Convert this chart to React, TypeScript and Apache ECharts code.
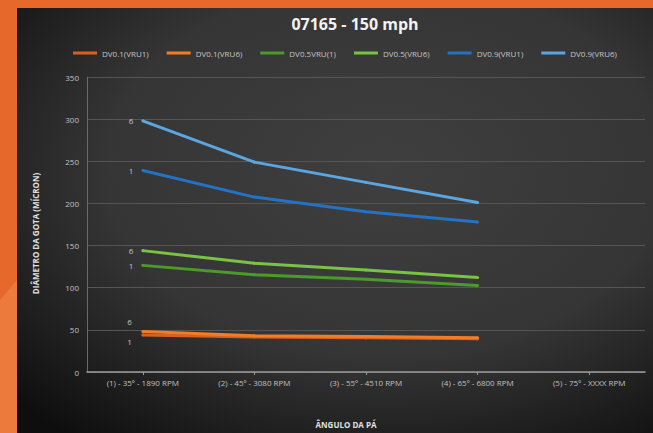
import React, { useEffect, useRef } from "react";
import * as echarts from "echarts";

const categories = [
  "(1) - 35º - 1890 RPM",
  "(2) - 45º - 3080 RPM",
  "(3) - 55º - 4510 RPM",
  "(4) - 65º - 6800 RPM",
  "(5) - 75º - XXXX RPM",
];

const dv01Vru1 = [44, 41.5, 40.5, 39.5, null];
const dv01Vru6 = [48, 43, 42, 40.5, null];
const dv05Vru1 = [126.5, 115.5, 110, 102.5, null];
const dv05Vru6 = [144, 129, 121, 112, null];
const dv09Vru1 = [239, 207.5, 190, 178, null];
const dv09Vru6 = [298, 249, 225, 201, null];

const seriesNames = [
  "DV0.1(VRU1)",
  "DV0.1(VRU6)",
  "DV0.5VRU(1)",
  "DV0.5(VRU6)",
  "DV0.9(VRU1)",
  "DV0.9(VRU6)",
];
const seriesColors = ["#D8611F", "#F27D24", "#4C9A2C", "#79C244", "#2372C3", "#5BA6E1"];
const firstLabels = ["1", "6", "1", "6", "1", "6"];
const yTicks = { min: 0, max: 350, interval: 50 };

const FONT = "'Open Sans', 'Liberation Sans', sans-serif";

export default function App() {
  const ref = useRef<HTMLDivElement>(null);

  useEffect(() => {
    if (!ref.current) return;
    const chart = echarts.init(ref.current, null, { renderer: "svg" });
    const data = [dv01Vru1, dv01Vru6, dv05Vru1, dv05Vru6, dv09Vru1, dv09Vru6];
    const labelPositions: any[] = [[-14, 4], [-14, -13], "left", "left", "left", "left"];
    const series = data.map((d, i) => ({
      name: seriesNames[i],
      type: "line",
      data: d,
      symbol: "circle",
      symbolSize: 3,
      showSymbol: true,
      showAllSymbol: true,
      color: seriesColors[i],
      itemStyle: { color: seriesColors[i] },
      lineStyle: { width: 3, color: seriesColors[i] },
      z: 2 + i,
      label: {
        show: true,
        position: labelPositions[i],
        distance: 8,
        color: "#c8c8c8",
        fontSize: 8,
        fontFamily: FONT,
        formatter: (p: any) => (p.dataIndex === 0 ? firstLabels[i] : ""),
      },
    }));

    chart.setOption({
      animation: false,
      backgroundColor: "#E6692B",
      graphic: [
        {
          type: "polygon",
          z: -10,
          silent: true,
          shape: { points: [[0, 300], [17, 280], [17, 433], [0, 433]] },
          style: { fill: "#EC7A3C" },
        },
        {
          type: "rect",
          z: -9,
          silent: true,
          shape: { x: 17, y: 8, width: 636, height: 425 },
          style: {
            fill: new echarts.graphic.RadialGradient(0.58, 0.38, 0.8, [
              { offset: 0, color: "#3f3f3f" },
              { offset: 0.55, color: "#353535" },
              { offset: 1, color: "#0e0e0e" },
            ]),
          },
        },
      ],
      title: {
        text: "07165 - 150 mph",
        left: 350,
        top: 11,
        textAlign: "center",
        textStyle: { color: "#f2f2f2", fontSize: 16, fontWeight: "bold", fontFamily: FONT },
      },
      legend: {
        left: 68,
        top: 44,
        icon: "rect",
        itemWidth: 24,
        itemHeight: 3,
        itemGap: 18,
        textStyle: { color: "#c4c4c4", fontSize: 8, fontFamily: FONT },
        data: seriesNames,
      },
      grid: { left: 87, right: 8, top: 77, bottom: 57 },
      xAxis: {
        type: "category",
        data: categories,
        boundaryGap: true,
        name: "ÂNGULO DA PÁ",
        nameLocation: "middle",
        nameGap: 48,
        nameTextStyle: {
          color: "#e0e0e0",
          fontSize: 8,
          fontWeight: "bold",
          fontFamily: FONT,
          padding: [0, 40, 0, 0],
        },
        axisLine: { lineStyle: { color: "#9a9a9a", width: 1.5 } },
        axisTick: { show: true, alignWithLabel: true, length: 3, lineStyle: { color: "#9a9a9a" } },
        axisLabel: { color: "#c0c0c0", fontSize: 8, fontFamily: FONT, margin: 6, interval: 0 },
        splitLine: { show: false },
      },
      yAxis: {
        type: "value",
        min: yTicks.min,
        max: yTicks.max,
        interval: yTicks.interval,
        name: "DIÂMETRO DA GOTA (MÍCRON)",
        nameLocation: "middle",
        nameGap: 48,
        nameTextStyle: {
          color: "#e0e0e0",
          fontSize: 8,
          fontWeight: "bold",
          fontFamily: FONT,
          padding: [0, 18, 0, 0],
        },
        axisLine: { show: true, lineStyle: { color: "#6a6a6a" } },
        axisTick: { show: false },
        axisLabel: { color: "#c0c0c0", fontSize: 8, fontFamily: FONT, margin: 8 },
        splitLine: { lineStyle: { color: "#555555", width: 1 } },
      },
      series,
    });

    return () => chart.dispose();
  }, []);

  return <div ref={ref} style={{ width: 653, height: 433, position: "absolute", left: 0, top: 0 }} />;
}
